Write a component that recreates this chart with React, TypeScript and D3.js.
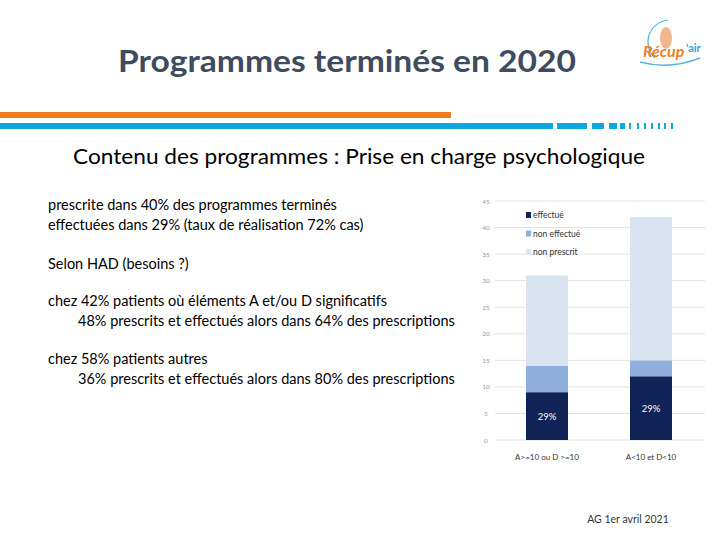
import React, { useRef, useEffect } from "react";
import * as d3 from "d3";

const categories = ["A>=10 ou D >=10", "A<10 et D<10"];
const effectue = [9, 12];
const nonEffectue = [5, 3];
const nonPrescrit = [17, 27];
const barLabels = ["29%", "29%"];
const seriesNames = ["effectué", "non effectué", "non prescrit"];
const seriesColors = ["#0f2357", "#91afdc", "#dae4f1"];
const yTicks = [0, 5, 10, 15, 20, 25, 30, 35, 40, 45];

const bodyLines = [
  "prescrite dans 40% des programmes terminés",
  "effectuées dans 29% (taux de réalisation 72% cas)",
  "Selon HAD (besoins ?)",
  "chez 42% patients où éléments A et/ou D significatifs",
  "48% prescrits et effectués alors dans 64% des prescriptions",
  "chez 58% patients autres",
  "36% prescrits et effectués alors dans 80% des prescriptions",
];
const bodyY = [210, 230, 269, 306, 326, 364, 384];
const bodyIndent = [false, false, false, false, true, false, true];

const FONT = "Lato, 'Open Sans', sans-serif";

function App() {
  const svgRef = useRef(null);

  useEffect(() => {
    const svg = d3.select(svgRef.current);
    svg.selectAll("*").remove();

    // slide decoration
    svg.append("rect").attr("x", 0).attr("y", 112).attr("width", 451).attr("height", 6).attr("fill", "#ef7d22");
    svg.append("rect").attr("x", 0).attr("y", 123).attr("width", 553).attr("height", 6).attr("fill", "#0fa7e0");
    const dashes = [[557, 30], [592, 12], [609, 8], [620, 5], [629, 2], [637, 2], [644, 2], [651, 2], [658, 2], [664, 2], [671, 2]];
    svg.selectAll(".dash").data(dashes).join("rect")
      .attr("x", (d) => d[0]).attr("y", 123).attr("width", (d) => d[1]).attr("height", 6)
      .attr("fill", "#0fa7e0");

    svg.append("text").attr("x", 347).attr("y", 72).attr("text-anchor", "middle")
      .attr("font-family", FONT).attr("font-size", 31).attr("font-weight", 700)
      .attr("fill", "#3f4b5e").attr("textLength", 458).attr("lengthAdjust", "spacingAndGlyphs")
      .text("Programmes terminés en 2020");

    svg.append("text").attr("x", 359).attr("y", 164).attr("text-anchor", "middle")
      .attr("font-family", FONT).attr("font-size", 20.5).attr("fill", "#000")
      .attr("textLength", 572).attr("lengthAdjust", "spacingAndGlyphs")
      .text("Contenu des programmes : Prise en charge psychologique");

    svg.selectAll(".body").data(bodyLines).join("text")
      .attr("x", (d, i) => (bodyIndent[i] ? 78 : 48)).attr("y", (d, i) => bodyY[i])
      .attr("font-family", FONT).attr("font-size", 14.5).attr("fill", "#000")
      .text((d) => d);

    svg.append("text").attr("x", 628).attr("y", 523).attr("text-anchor", "middle")
      .attr("font-family", FONT).attr("font-size", 10.5).attr("fill", "#333")
      .text("AG 1er avril 2021");

    // logo
    const logo = svg.append("g");
    logo.append("path").attr("d", "M655,58 A22,22 0 0 1 668,20").attr("fill", "none")
      .attr("stroke", "#5bb5d9").attr("stroke-width", 1.2);
    logo.append("ellipse").attr("cx", 666).attr("cy", 38).attr("rx", 6).attr("ry", 11).attr("fill", "#f2b58d");
    logo.append("text").attr("x", 643).attr("y", 57).attr("font-family", FONT).attr("font-size", 16)
      .attr("font-weight", 700).attr("font-style", "italic").attr("fill", "#ef7d22").text("Récup");
    logo.append("text").attr("x", 686).attr("y", 52).attr("font-family", FONT).attr("font-size", 11)
      .attr("font-weight", 700).attr("fill", "#2aa6d8").text("'air");
    logo.append("path").attr("d", "M640,62 Q670,70 700,58").attr("fill", "none")
      .attr("stroke", "#5bb5d9").attr("stroke-width", 1.5);

    // chart
    const x = d3.scaleBand().domain(categories).range([495, 703]).paddingInner(0.596).paddingOuter(0.298);
    const y = d3.scaleLinear().domain([0, 45]).range([440, 201]);

    svg.selectAll(".grid").data(yTicks).join("line")
      .attr("x1", 495).attr("x2", 705)
      .attr("y1", (d) => y(d)).attr("y2", (d) => y(d))
      .attr("stroke", "#e2e2e2").attr("stroke-width", 1);

    svg.selectAll(".ytick").data(yTicks).join("text")
      .attr("x", 486).attr("y", (d) => y(d) + 2.5).attr("text-anchor", "middle")
      .attr("font-family", FONT).attr("font-size", 6.5).attr("fill", "#9a9a9a")
      .text((d) => d);

    const rows = categories.map((c, i) => ({
      cat: c,
      "effectué": effectue[i],
      "non effectué": nonEffectue[i],
      "non prescrit": nonPrescrit[i],
    }));
    const stacked = d3.stack().keys(seriesNames)(rows);

    stacked.forEach((layer, li) => {
      svg.append("g").selectAll("rect").data(layer).join("rect")
        .attr("x", (d) => x(d.data.cat))
        .attr("width", x.bandwidth())
        .attr("y", (d) => y(d[1]))
        .attr("height", (d) => y(d[0]) - y(d[1]))
        .attr("fill", seriesColors[li]);
    });

    svg.selectAll(".blabel").data(stacked[0]).join("text")
      .attr("x", (d) => x(d.data.cat) + x.bandwidth() / 2)
      .attr("y", (d) => y((d[0] + d[1]) / 2) + 3.5)
      .attr("text-anchor", "middle")
      .attr("font-family", FONT).attr("font-size", 9.5).attr("fill", "#fff")
      .text((d, i) => barLabels[i]);

    svg.selectAll(".xlabel").data(categories).join("text")
      .attr("x", (d) => x(d) + x.bandwidth() / 2).attr("y", 460)
      .attr("text-anchor", "middle")
      .attr("font-family", FONT).attr("font-size", 8).attr("fill", "#333")
      .text((d) => d);

    const legend = svg.append("g").selectAll("g").data(seriesNames).join("g")
      .attr("transform", (d, i) => `translate(526,${215 + i * 18.5})`);
    legend.append("rect").attr("x", 0).attr("y", -3).attr("width", 5).attr("height", 6)
      .attr("fill", (d, i) => seriesColors[i]);
    legend.append("text").attr("x", 7).attr("y", 3)
      .attr("font-family", FONT).attr("font-size", 8.5).attr("fill", "#333")
      .text((d) => d);
  }, []);

  return (
    <div style={{ position: "absolute", left: 0, top: 0 }}>
      <svg ref={svgRef} width={720} height={540} style={{ display: "block", background: "#fff" }} />
    </div>
  );
}

export default App;
